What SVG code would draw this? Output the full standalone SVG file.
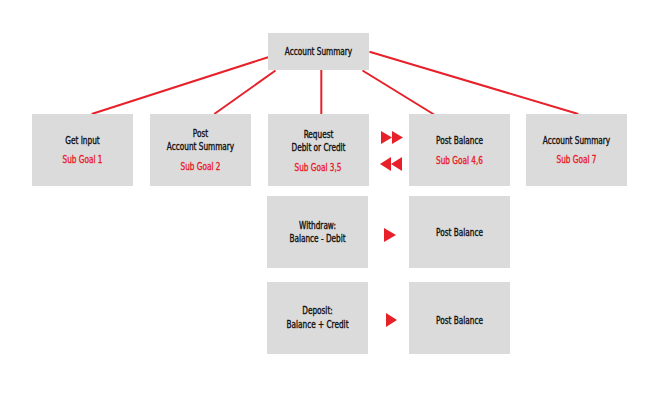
<svg xmlns="http://www.w3.org/2000/svg" width="656" height="400" viewBox="0 0 656 400">
<style>
.box{fill:#dcdbdc}
text{font-family:"DejaVu Sans Condensed","DejaVu Sans",sans-serif;font-stretch:condensed;font-size:10.2px;text-anchor:middle;dominant-baseline:central;stroke-width:0.35px}
.t{fill:#111;stroke:#111}
.r{fill:#e8202a;stroke:#e8202a}
.ln{stroke:#e8202a;stroke-width:2;fill:none}
.ar{fill:#e8202a}
</style>
<rect width="656" height="400" fill="#fff"/>
<g id="connectors">
<line class="ln" x1="268" y1="57.3" x2="91.7" y2="114"/>
<line class="ln" x1="275.5" y1="70.5" x2="214.3" y2="114"/>
<line class="ln" x1="321.3" y1="70" x2="321.3" y2="114"/>
<line class="ln" x1="362.5" y1="70.5" x2="434" y2="114.5"/>
<line class="ln" x1="369.5" y1="51.7" x2="578.3" y2="114"/>
<polygon class="ar" points="381,131 392,137.5 381,144"/>
<polygon class="ar" points="392,131 403,137.5 392,144"/>
<polygon class="ar" points="402,157 391,164 402,171"/>
<polygon class="ar" points="391,157 380,164 391,171"/>
<polygon class="ar" points="384,228 396,235 384,242"/>
<polygon class="ar" points="386,313 397,320 386,327"/>
</g>
<g id="root">
<rect class="box" x="268" y="33" width="101" height="37"/>
<text class="t" transform="translate(318.5 51) scale(0.8 1)">Account Summary</text>
</g>
<g id="get-input">
<rect class="box" x="32" y="114" width="101" height="72"/>
<text class="t" transform="translate(82.5 140) scale(0.8 1)">Get Input</text>
<text class="r" transform="translate(82.5 159) scale(0.8 1)">Sub Goal 1</text>
</g>
<g id="post-account-summary">
<rect class="box" x="150" y="114" width="101" height="72"/>
<text class="t" transform="translate(200.5 133) scale(0.8 1)">Post</text>
<text class="t" transform="translate(200.5 146.5) scale(0.8 1)">Account Summary</text>
<text class="r" transform="translate(200.5 166) scale(0.8 1)">Sub Goal 2</text>
</g>
<g id="request">
<rect class="box" x="268" y="114" width="101" height="72"/>
<text class="t" transform="translate(318.5 134) scale(0.8 1)">Request</text>
<text class="t" transform="translate(318.5 147) scale(0.8 1)">Debit or Credit</text>
<text class="r" transform="translate(318 167) scale(0.8 1)">Sub Goal 3,5</text>
</g>
<g id="post-balance-1">
<rect class="box" x="409" y="114" width="101" height="72"/>
<text class="t" transform="translate(459.5 140) scale(0.8 1)">Post Balance</text>
<text class="r" transform="translate(459.5 160) scale(0.8 1)">Sub Goal 4,6</text>
</g>
<g id="account-summary-2">
<rect class="box" x="526" y="114" width="101" height="72"/>
<text class="t" transform="translate(576.5 140) scale(0.8 1)">Account Summary</text>
<text class="r" transform="translate(576.5 159) scale(0.8 1)">Sub Goal 7</text>
</g>
<g id="withdraw">
<rect class="box" x="267" y="196" width="101" height="72"/>
<text class="t" transform="translate(317.5 225) scale(0.8 1)">Withdraw:</text>
<text class="t" transform="translate(317.5 238) scale(0.8 1)">Balance - Debit</text>
</g>
<g id="post-balance-2">
<rect class="box" x="409" y="196" width="101" height="72"/>
<text class="t" transform="translate(459.5 232) scale(0.8 1)">Post Balance</text>
</g>
<g id="deposit">
<rect class="box" x="267" y="282" width="101" height="72"/>
<text class="t" transform="translate(317.5 310) scale(0.8 1)">Deposit:</text>
<text class="t" transform="translate(317.5 324) scale(0.8 1)">Balance + Credit</text>
</g>
<g id="post-balance-3">
<rect class="box" x="409" y="282" width="101" height="72"/>
<text class="t" transform="translate(459.5 320) scale(0.8 1)">Post Balance</text>
</g>
</svg>
